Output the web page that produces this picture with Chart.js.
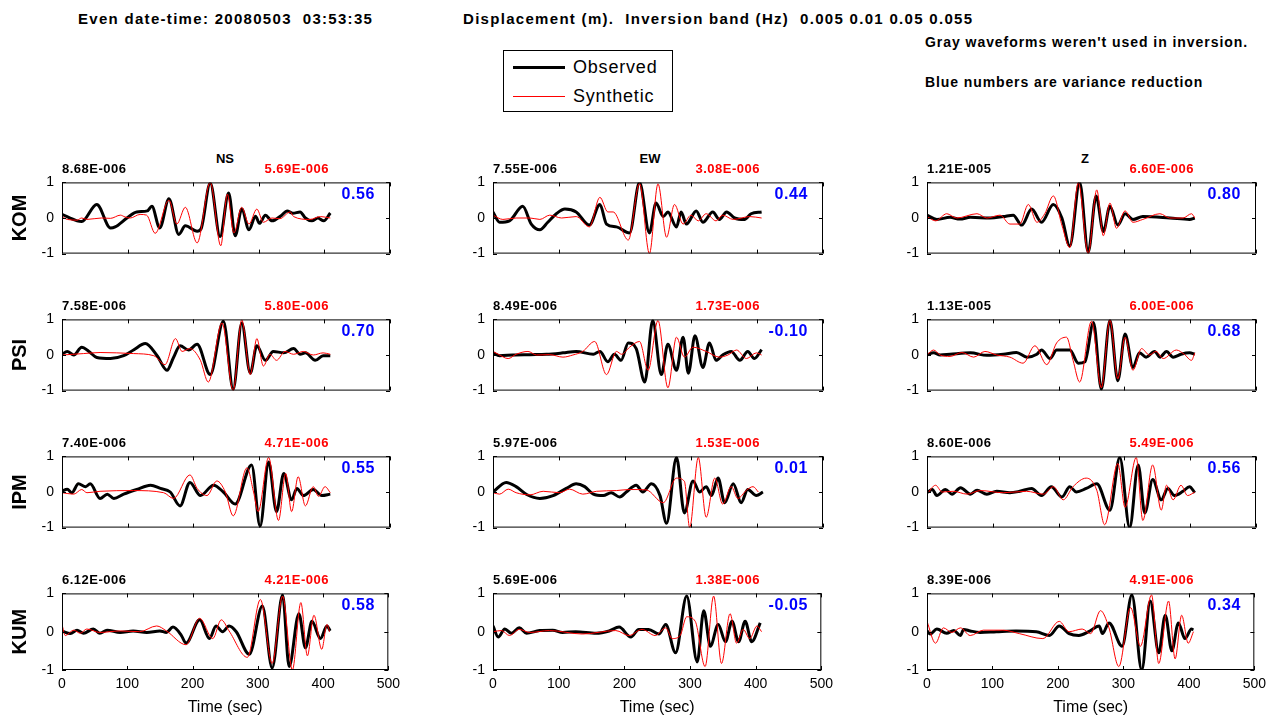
<!DOCTYPE html>
<html><head><meta charset="utf-8">
<script src="https://cdn.jsdelivr.net/npm/chart.js@4.4.0/dist/chart.umd.min.js"></script>
<style>
body{margin:0;width:1278px;height:719px;background:#fff;position:relative;overflow:hidden;font-family:"Liberation Sans",Arial,sans-serif;color:#000;}
.t{position:absolute;white-space:pre;transform:translateY(-50%);line-height:1;z-index:5;}
canvas{position:absolute;}
</style></head><body>
<div id="texts"></div>
<script>
// ---------------- DATA ----------------
const stations = ['KOM','PSI','IPM','KUM'];
const components = ['NS','EW','Z'];
const xTicks = [0,100,200,300,400,500];
const yTicks = [-1,0,1];
const obsAmp = [
  ['8.68E-006','7.55E-006','1.21E-005'],
  ['7.58E-006','8.49E-006','1.13E-005'],
  ['7.40E-006','5.97E-006','8.60E-006'],
  ['6.12E-006','5.69E-006','8.39E-006']];
const synAmp = [
  ['5.69E-006','3.08E-006','6.60E-006'],
  ['5.80E-006','1.73E-006','6.00E-006'],
  ['4.71E-006','1.53E-006','5.49E-006'],
  ['4.21E-006','1.38E-006','4.91E-006']];
const varRed = [
  ['0.56','0.44','0.80'],
  ['0.70','-0.10','0.68'],
  ['0.55','0.01','0.56'],
  ['0.58','-0.05','0.34']];

// waveforms: [time (sec), normalized displacement]
const komNsObs = [[0,0.1],[23,-0.08],[30,-0.1],[53,0.38],[74,-0.28],[81,-0.25],[99,0],[114,0.17],[130,0.2],[137,0.33],[149,-0.28],[163,0.54],[178,-0.46],[188,-0.22],[206,-0.37],[212,-0.3],[226,0.98],[241,-0.52],[254,0.7],[264,-0.5],[274,0.25],[285,-0.33],[295,0.05],[301,-0.15],[310,0.08],[320,-0.08],[335,0.08],[343,0.2],[352,0.13],[363,0.17],[371,0],[381,-0.08],[390,0],[399,-0.08],[409,0.14]];
const komNsSyn = [[0,0.05],[8,-0.04],[23,-0.06],[30,0],[38,-0.04],[60,0],[74,-0.01],[89,0.08],[96,0.03],[104,0],[119,0.1],[129,0.08],[142,-0.43],[163,0.5],[175,-0.17],[188,0.3],[206,-0.7],[226,1.0],[242,-0.78],[252,0.67],[262,-0.42],[274,0.3],[285,-0.17],[297,0.25],[307,-0.12],[320,0],[332,-0.02],[348,0.17],[353,0.04],[378,-0.04],[394,0.04],[409,0]];
const komEwObs = [[0,0.17],[10,-0.12],[25,-0.08],[45,0.33],[58,-0.17],[71,-0.33],[83,-0.12],[96,0.12],[109,0.25],[126,0.17],[146,-0.2],[162,0.38],[172,-0.17],[187,-0.25],[207,-0.42],[222,1.0],[237,-0.42],[247,0.42],[258,0.04],[265,0.17],[278,-0.25],[285,0.17],[293,-0.17],[308,0.2],[318,-0.12],[333,0.17],[343,-0.04],[354,0.17],[366,0],[381,-0.04],[391,0.12],[407,0.17]];
const komEwSyn = [[0,0.08],[15,-0.04],[35,0],[56,0],[71,-0.04],[86,0.08],[104,0],[126,0.04],[146,-0.25],[162,0.58],[174,0.17],[182,0.17],[205,-0.62],[222,0.97],[237,-1.0],[250,0.96],[263,-0.54],[275,0.38],[288,-0.17],[300,0.08],[311,-0.08],[323,0.12],[338,-0.08],[348,0.08],[364,-0.04],[389,0.04],[407,0]];
const komZObs = [[0,0.08],[15,-0.04],[35,0.02],[50,-0.03],[66,0.02],[96,0],[116,0.04],[131,0.08],[144,-0.2],[159,0.25],[174,-0.12],[192,0.38],[205,0],[217,-0.79],[232,1.0],[245,-0.96],[257,0.62],[268,-0.38],[278,0.33],[290,-0.2],[301,0.12],[313,-0.04],[328,0.04],[369,0],[399,-0.04],[407,0]];
const komZSyn = [[0,0.04],[13,-0.08],[30,0.12],[45,0],[76,0.12],[91,0],[111,0.08],[126,-0.17],[141,-0.17],[154,0.38],[167,-0.12],[179,0.12],[192,0.62],[205,-0.2],[217,-0.83],[230,1.0],[245,-1.0],[258,0.79],[268,-0.5],[278,0.42],[288,-0.29],[301,0.2],[313,-0.12],[328,-0.04],[354,0.12],[369,0],[389,0],[402,0.12],[407,0]];
const psiNsObs = [[0,0.02],[8,0.1],[18,0],[30,0.22],[41,0.1],[53,-0.07],[74,-0.1],[94,-0.02],[109,0.14],[127,0.32],[145,-0.02],[160,-0.43],[170,-0.07],[180,0.26],[193,0.14],[206,0.3],[226,-0.55],[246,0.95],[261,-0.96],[274,0.9],[287,-0.51],[297,0.26],[310,-0.15],[322,0.1],[338,0.06],[353,0.18],[363,0.02],[371,0.06],[386,-0.15],[398,-0.02],[409,-0.02]];
const psiNsSyn = [[0,0],[33,0.04],[58,0.07],[109,0.04],[140,-0.02],[157,-0.27],[173,0.46],[183,0.1],[195,0.18],[211,-0.15],[223,-0.76],[244,0.9],[261,-1.0],[274,0.99],[287,-0.55],[297,0.46],[307,-0.31],[317,0.02],[327,-0.15],[340,0.1],[353,0.02],[368,0.1],[383,0],[398,0.06],[409,0.02]];
const psiEwObs = [[0,0.06],[10,-0.02],[30,0],[56,0.01],[81,0.02],[106,0.06],[126,0.1],[152,0.02],[162,0.1],[174,-0.19],[184,0.02],[194,-0.15],[205,0.34],[217,0.18],[230,-0.76],[242,0.97],[255,-0.55],[265,0.3],[278,-0.43],[288,0.5],[296,-0.51],[306,0.54],[318,-0.35],[328,0.34],[338,-0.15],[348,0],[361,0.1],[374,-0.15],[386,0.1],[396,-0.1],[407,0.15]];
const psiEwSyn = [[0,0.1],[8,0.02],[23,-0.1],[35,0.02],[53,0.1],[66,0],[86,0.01],[106,-0.06],[121,0],[136,0.1],[154,0.38],[172,-0.55],[187,0.1],[195,0.02],[207,0.22],[222,0.38],[235,-0.43],[250,0.97],[265,-0.92],[278,0.5],[290,-0.06],[303,0.22],[323,0.1],[343,-0.06],[356,0],[369,0.14],[384,-0.1],[399,0.06],[407,0]];
const psiZObs = [[0,0],[10,0.06],[20,0],[35,0.02],[66,0.06],[91,-0.01],[116,0.02],[136,0.07],[152,-0.06],[167,0.02],[174,0.14],[187,-0.1],[197,0.14],[217,0.14],[230,-0.23],[240,-0.19],[253,0.91],[265,-0.96],[278,0.97],[290,-0.72],[301,0.59],[313,-0.35],[323,0.06],[333,-0.06],[346,0.1],[354,-0.06],[364,0.1],[374,-0.06],[386,0.02],[399,0.06],[407,0.02]];
const psiZSyn = [[0,0],[10,0.14],[20,0],[35,-0.04],[53,0.07],[71,-0.06],[88,0.1],[106,0],[126,-0.06],[146,-0.23],[164,0.26],[182,-0.27],[197,0.34],[212,0.5],[222,-0.15],[232,-0.76],[250,0.95],[265,-0.92],[278,0.99],[290,-0.67],[301,0.5],[313,-0.43],[326,0.18],[338,0],[348,0.1],[359,-0.1],[379,0.14],[391,0.02],[402,-0.15],[407,0.06]];
const ipmNsObs = [[0,0.02],[8,0.08],[15,-0.02],[25,0.23],[36,0.15],[43,0.23],[58,-0.18],[69,-0.06],[79,-0.18],[94,-0.06],[114,0.07],[135,0.19],[150,0.1],[165,0],[180,-0.39],[195,0.27],[211,-0.1],[231,0.19],[246,0],[264,-0.34],[289,0.76],[302,-0.96],[315,0.84],[327,-0.55],[338,0.52],[350,-0.22],[358,0.1],[368,-0.1],[383,0.07],[396,-0.1],[409,-0.06]];
const ipmNsSyn = [[0,-0.02],[18,-0.06],[30,0.07],[38,-0.02],[58,0.02],[109,0.04],[155,-0.02],[170,-0.18],[195,0.48],[206,0.1],[221,-0.1],[236,0.31],[249,0],[261,-0.67],[282,0.68],[292,0],[299,-0.55],[315,0.97],[330,-0.8],[341,0.52],[350,-0.55],[360,0.43],[371,-0.39],[383,0.15],[391,-0.12],[401,0.15],[409,-0.02]];
const ipmEwObs = [[0,0],[20,0.27],[35,0.15],[51,-0.07],[71,-0.18],[91,-0.1],[111,0.1],[126,0.23],[139,0.15],[152,-0.06],[167,-0.1],[179,-0.02],[192,-0.14],[202,0],[217,0.19],[227,0],[240,0.23],[253,-0.1],[263,-0.88],[278,0.97],[290,-0.59],[303,0.31],[313,0],[323,0.15],[331,-0.1],[341,0.39],[351,-0.3],[364,0.23],[376,-0.3],[386,0.07],[399,-0.1],[409,0]];
const ipmEwSyn = [[0,-0.02],[10,-0.06],[23,0.08],[35,-0.02],[56,-0.08],[76,0.02],[101,-0.02],[116,0.08],[136,-0.06],[157,0.02],[187,0.04],[207,0.07],[232,0.06],[258,-0.3],[278,0.39],[290,0.3],[298,-1.0],[311,0.97],[323,-0.71],[336,0.39],[348,-0.34],[361,0.15],[371,-0.18],[384,0.05],[394,0.15],[402,0]];
const ipmZObs = [[0,-0.02],[8,0.07],[15,-0.1],[28,0.07],[38,-0.06],[51,0.12],[66,-0.06],[76,0.05],[91,-0.06],[106,0.02],[126,-0.02],[141,0.02],[159,0.1],[174,-0.1],[189,0.15],[205,-0.14],[217,0.15],[227,0],[242,0.1],[258,0.23],[278,-0.51],[293,0.97],[308,-1.0],[321,0.76],[331,-0.59],[343,0.35],[356,-0.22],[366,0.1],[376,-0.1],[389,0.02],[399,0.15],[407,-0.02]];
const ipmZSyn = [[0,-0.06],[13,0.19],[23,0],[40,0.02],[61,-0.06],[81,0.04],[116,-0.02],[151,0.02],[177,-0.06],[192,0.15],[207,-0.22],[222,0.15],[242,0.39],[258,0.05],[270,-0.92],[290,0.8],[301,-0.43],[318,0.97],[328,-0.8],[343,0.76],[356,-0.51],[364,0.19],[374,-0.22],[386,0.19],[396,-0.1],[407,0]];
const kumNsObs = [[0,0.02],[13,-0.05],[23,0.04],[33,-0.04],[48,0.07],[58,-0.04],[69,0.04],[89,-0.02],[109,0.02],[130,-0.02],[150,0.02],[160,-0.02],[170,0.12],[183,-0.1],[190,-0.3],[211,0.31],[226,-0.18],[236,0.15],[246,0],[256,0.15],[267,0],[287,-0.59],[307,0.67],[322,-0.95],[338,0.96],[348,-0.91],[363,0.47],[373,-0.42],[383,0.27],[396,-0.18],[406,0.15],[411,0.02]];
const kumNsSyn = [[0,0.19],[5,-0.1],[18,0.04],[28,-0.04],[38,0.07],[58,-0.02],[89,0.02],[119,0],[145,0.15],[160,0.02],[190,-0.34],[211,0.35],[231,-0.18],[244,0.31],[256,0.02],[284,-0.67],[304,0.84],[322,-0.83],[338,0.93],[353,-1.0],[366,0.76],[376,-0.63],[386,0.43],[398,-0.46],[406,0.19],[410,0]];
const kumEwObs = [[0,0.15],[8,-0.14],[18,0.07],[28,-0.04],[40,0.1],[51,-0.04],[71,0.03],[91,0.04],[106,-0.02],[126,0],[157,-0.04],[177,0.02],[192,0.12],[210,-0.14],[222,0.06],[237,0.06],[253,-0.06],[263,0.19],[278,-0.55],[295,0.93],[311,-0.79],[321,0.55],[331,-0.38],[343,0.19],[354,-0.26],[364,0.27],[374,-0.26],[384,0.27],[394,-0.26],[407,0.23]];
const kumEwSyn = [[0,0],[13,0.03],[25,-0.1],[40,0.06],[56,-0.02],[86,0.03],[136,-0.06],[187,0.03],[207,-0.1],[227,0.06],[247,-0.1],[263,0.1],[273,-0.18],[285,-0.1],[295,0.39],[308,0.27],[323,-0.91],[336,0.93],[348,-0.83],[361,0.47],[371,-0.3],[381,0.06],[391,-0.18],[402,0.15],[409,0]];
const kumZObs = [[0,0.02],[5,-0.06],[15,0.07],[30,-0.04],[41,0.03],[51,-0.1],[56,0.06],[66,0.02],[81,-0.02],[106,0],[136,0.02],[167,0],[187,-0.1],[202,0.15],[217,-0.05],[232,-0.1],[247,0],[263,0.15],[268,-0.05],[278,0.23],[298,-0.38],[313,0.96],[328,-1.0],[341,0.8],[354,-0.55],[364,0.43],[374,-0.5],[384,0.23],[394,-0.18],[404,0.07],[407,0.05]];
const kumZSyn = [[0,0.27],[13,-0.3],[25,0.1],[38,-0.02],[51,0.1],[66,-0.1],[86,0.04],[116,0.04],[141,-0.05],[177,-0.18],[202,0.27],[217,0],[237,0.07],[250,-0.05],[265,0.55],[278,0.1],[293,-0.91],[311,0.63],[326,-0.38],[343,0.96],[354,-0.83],[369,0.8],[379,-0.71],[389,0.43],[399,-0.3],[407,0]];

const observed = [[komNsObs,komEwObs,komZObs],[psiNsObs,psiEwObs,psiZObs],[ipmNsObs,ipmEwObs,ipmZObs],[kumNsObs,kumEwObs,kumZObs]];
const synthetic = [[komNsSyn,komEwSyn,komZSyn],[psiNsSyn,psiEwSyn,psiZSyn],[ipmNsSyn,ipmEwSyn,ipmZSyn],[kumNsSyn,kumEwSyn,kumZSyn]];
const legendLabels = ['Observed','Synthetic'];

// ---------------- LAYOUT ----------------
const FAM = '"Liberation Sans", Arial, sans-serif';
const colBox = [[62,390],[493,823],[927,1256]];
const rowBox = [[178,258],[315,395],[452,532],[589,670]];
const colTitleX = [225,650,1085];

const texts = document.getElementById('texts');
function addText(str, x, y, style, align){
  const d = document.createElement('div');
  d.className = 't';
  d.textContent = str;
  d.style.cssText += style;
  d.style.top = y + 'px';
  if (align === 'right') { d.style.right = (1278 - x) + 'px'; }
  else if (align === 'center') { d.style.left = x + 'px'; d.style.transform = 'translate(-50%,-50%)'; }
  else { d.style.left = x + 'px'; }
  document.body.appendChild(d);
  return d;
}

addText('Even date-time: 20080503  03:53:35', 78, 18, 'font-weight:bold;font-size:15px;letter-spacing:1.3px;');
addText('Displacement (m).  Inversion band (Hz)  0.005 0.01 0.05 0.055', 463, 18, 'font-weight:bold;font-size:15px;letter-spacing:1.3px;');
addText("Gray waveforms weren't used in inversion.", 925, 42, 'font-weight:bold;font-size:14px;letter-spacing:0.95px;');
addText('Blue numbers are variance reduction', 925, 82, 'font-weight:bold;font-size:14px;letter-spacing:0.9px;');

// legend box
const lg = document.createElement('div');
lg.style.cssText = 'position:absolute;left:503px;top:50px;width:168px;height:60px;border:1px solid #000;';
document.body.appendChild(lg);
const legendStyle = [['#000',3],['#ff0000',1]];
legendLabels.forEach((lab,i)=>{
  const yc = 67 + i*29;
  const ln = document.createElement('div');
  ln.style.cssText = `position:absolute;left:513px;top:${yc - legendStyle[i][1]/2}px;width:52px;height:${legendStyle[i][1]}px;background:${legendStyle[i][0]};`;
  document.body.appendChild(ln);
  addText(lab, 573, yc, 'font-size:18px;letter-spacing:0.8px;color:#000;');
});

components.forEach((c,i)=> addText(c, colTitleX[i], 158, 'font-weight:bold;font-size:13px;', 'center'));

const framePlugin = {
  id:'frame',
  afterDraw(chart){
    const {ctx, chartArea:a, scales} = chart;
    ctx.save();
    ctx.strokeStyle = '#000'; ctx.lineWidth = 1;
    ctx.strokeRect(a.left+0.5, a.top+0.5, a.right-a.left-1, a.bottom-a.top-1);
    ctx.beginPath();
    yTicks.forEach(v=>{
      const py = Math.round(scales.y.getPixelForValue(v))+0.5;
      ctx.moveTo(a.left, py); ctx.lineTo(a.left+4, py);
      ctx.moveTo(a.right-4, py); ctx.lineTo(a.right, py);
    });
    xTicks.forEach(v=>{
      const px = Math.round(scales.x.getPixelForValue(v))+0.5;
      ctx.moveTo(px, a.bottom); ctx.lineTo(px, a.bottom-4);
      ctx.moveTo(px, a.top); ctx.lineTo(px, a.top+4);
    });
    ctx.stroke();
    ctx.restore();
  }
};

function makePanel(r, c){
  const [l, rt] = colBox[c];
  const [t, b] = rowBox[r];
  const bottom = (r === 3);
  const padTop = 12, padRight = 16, axisW = 62, axisH = bottom ? 48 : 12;
  const w = axisW + (rt - l) + padRight;
  const h = padTop + (b - t) + axisH;
  const cv = document.createElement('canvas');
  cv.width = w; cv.height = h;
  cv.style.width = w + 'px'; cv.style.height = h + 'px';
  cv.style.left = (l - axisW) + 'px'; cv.style.top = (t - padTop) + 'px';
  document.body.appendChild(cv);
  new Chart(cv, {
    type:'line',
    data:{datasets:[
      {label:legendLabels[1], data: synthetic[r][c].map(p=>({x:p[0], y:p[1]})), borderColor:'#ff0000', borderWidth:1,
       pointRadius:0, cubicInterpolationMode:'monotone', fill:false, order:0},
      {label:legendLabels[0], data: observed[r][c].map(p=>({x:p[0], y:p[1]})), borderColor:'#000000', borderWidth:3,
       pointRadius:0, cubicInterpolationMode:'monotone', fill:false, order:1}
    ]},
    options:{
      responsive:false, animation:false, events:[], devicePixelRatio:1,
      layout:{padding:{top:padTop, right:padRight, left:0, bottom:0}},
      plugins:{legend:{display:false}, tooltip:{enabled:false}, title:{display:false}},
      scales:{
        x:{type:'linear', min:0, max:500,
           afterFit:s=>{ s.height = axisH; },
           afterBuildTicks:s=>{ s.ticks = xTicks.map(v=>({value:v})); },
           grid:{display:false, drawTicks:false}, border:{display:false},
           ticks:{display:bottom, font:{size:14, family:FAM}, color:'#000', padding:6, maxRotation:0, autoSkip:false},
           title:{display:bottom, text:'Time (sec)', font:{size:16, family:FAM}, color:'#000', padding:{top:0,bottom:1}}},
        y:{type:'linear', min:-1, max:1,
           afterFit:s=>{ s.width = axisW; },
           afterBuildTicks:s=>{ s.ticks = yTicks.map(v=>({value:v})); },
           grid:{display:false, drawTicks:false}, border:{display:false},
           ticks:{font:{size:14, family:FAM}, color:'#000', padding:8},
           title:{display:c===0, text:stations[r], font:{size:20, family:FAM, weight:'bold'}, color:'#000', padding:{top:8,bottom:0}}}
      }
    },
    plugins:[framePlugin]
  });
  addText(obsAmp[r][c], l, t - 10, 'font-weight:bold;font-size:13px;letter-spacing:0.5px;');
  addText(synAmp[r][c], l + 267, t - 10, 'font-weight:bold;font-size:13px;letter-spacing:0.5px;color:#ff0000;', 'right');
  addText(varRed[r][c], rt - 15, t + 16, 'font-weight:bold;font-size:16px;letter-spacing:0.6px;color:#0000ff;', 'right');
}

for (let r = 0; r < 4; r++) for (let c = 0; c < 3; c++) makePanel(r, c);
</script>
</body></html>
